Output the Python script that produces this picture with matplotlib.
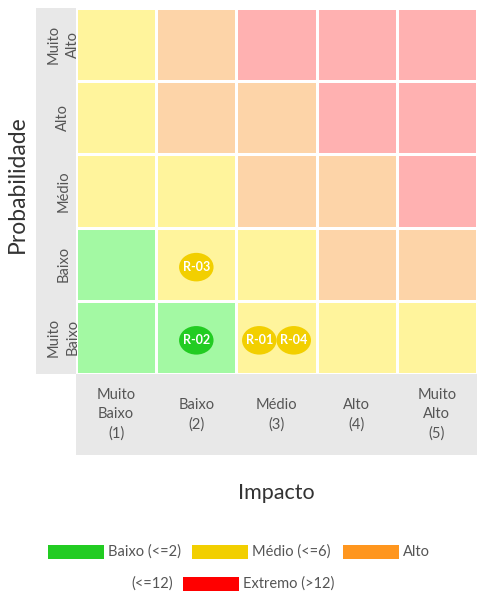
import matplotlib
matplotlib.use("Agg")
import matplotlib.pyplot as plt
import numpy as np
from matplotlib.colors import ListedColormap, BoundaryNorm
from matplotlib.patches import Rectangle, Ellipse
import matplotlib.transforms as mtransforms

plt.rcParams["font.family"] = ["Lato", "DejaVu Sans"]

impact_labels = ["Muito\nBaixo\n(1)", "Baixo\n(2)", "Médio\n(3)", "Alto\n(4)", "Muito\nAlto\n(5)"]
prob_labels = ["Muito\nBaixo", "Baixo", "Médio", "Alto", "Muito\nAlto"]

risk_ids = ["R-01", "R-02", "R-03", "R-04"]
risk_impact = [3, 2, 2, 3]
risk_prob = [1, 1, 2, 1]

level_names = ["Baixo (<=2)", "Médio (<=6)", "Alto (<=12)", "Extremo (>12)"]
level_limits = [2, 6, 12, 25]
cell_colors = ["#a3f9a3", "#fff49c", "#fdd4a8", "#ffb1b1"]
strong_colors = ["#22cc22", "#f2cf00", "#ff961e", "#ff0000"]


def level_of(score):
    for k, lim in enumerate(level_limits):
        if score <= lim:
            return k
    return len(level_limits) - 1


W, H = 480, 599
fig = plt.figure(figsize=(W / 100, H / 100), dpi=100)


def px(x0, y0, x1, y1):
    # pixel box (top-left origin) -> figure fraction rect
    return [x0 / W, 1 - y1 / H, (x1 - x0) / W, (y1 - y0) / H]


gl, gt, gr, gb = 76, 8, 477, 374
ax = fig.add_axes(px(gl, gt, gr, gb))

# gray label bands
for box in [(36, gt, gl, gb), (gl, gb, gr, 455)]:
    r = px(*box)
    fig.add_artist(Rectangle((r[0], r[1]), r[2], r[3], transform=fig.transFigure,
                             facecolor="#e8e8e8", edgecolor="none", zorder=0))

n = 5
imp = np.arange(1, n + 1)
prb = np.arange(1, n + 1)
levels = np.array([[level_of(p * i) for i in imp] for p in prb])
cmap = ListedColormap(cell_colors)
norm = BoundaryNorm(np.arange(-0.5, 4.5, 1), cmap.N)
ax.pcolormesh(np.arange(0.5, n + 1.5), np.arange(0.5, n + 1.5), levels,
              cmap=cmap, norm=norm, edgecolor="white", linewidth=1.0)
ax.set_xlim(0.5, n + 0.5)
ax.set_ylim(0.5, n + 0.5)
ax.set_xticks([])
ax.set_yticks([])
for s in ax.spines.values():
    s.set_visible(False)

# axis labels in bands
tx = mtransforms.blended_transform_factory(ax.transData, ax.transAxes)
for i, lab in zip(imp, impact_labels):
    ax.text(i, -0.111, lab, transform=tx, ha="center", va="center",
            fontsize=10.5, color="#555555", linespacing=1.45, clip_on=False)
ty = mtransforms.blended_transform_factory(ax.transAxes, ax.transData)
for p, lab in zip(prb, prob_labels):
    ax.text(-0.032, p, lab, transform=ty, ha="center", va="center", rotation=90,
            fontsize=10.5, color="#555555", linespacing=1.45, clip_on=False)

ax.text(0.5, -0.325, "Impacto", transform=ax.transAxes, ha="center", va="center",
        fontsize=15.5, color="#333333")
ax.text(-0.145, 0.52, "Probabilidade", transform=ax.transAxes, ha="center", va="center",
        rotation=90, fontsize=16.5, color="#333333")

# risk bubbles, spread when several share a cell
cells = {}
for rid, i, p in zip(risk_ids, risk_impact, risk_prob):
    cells.setdefault((i, p), []).append(rid)
bw, bh = 0.43, 0.39
for (i, p), ids in cells.items():
    k = len(ids)
    offs = (np.arange(k) - (k - 1) / 2) * bw
    for rid, dx in zip(ids, offs):
        c = strong_colors[level_of(i * p)]
        ax.add_patch(Ellipse((i + dx, p - 0.04), bw, bh, facecolor=c, edgecolor="none", zorder=3))
        ax.text(i + dx, p - 0.04, rid, ha="center", va="center", fontsize=9,
                fontweight="bold", color="white", zorder=4)

# legend (wrapped like the original)
legend_layout = [
    (48, 552, "Baixo (<=2)"),
    (192, 552, "Médio (<=6)"),
    (343, 552, "Alto"),
    (183, 584, "Extremo (>12)"),
]
for k, (x0, yc, txt) in enumerate(legend_layout):
    r = px(x0, yc - 7, x0 + 56, yc + 7)
    fig.add_artist(Rectangle((r[0], r[1]), r[2], r[3], transform=fig.transFigure,
                             facecolor=strong_colors[k], edgecolor="none"))
    fig.text((x0 + 60) / W, 1 - yc / H, txt, ha="left", va="center",
             fontsize=10.5, color="#555555")
fig.text(131 / W, 1 - 584 / H, "(" + level_names[2].split("(")[1], ha="left", va="center",
         fontsize=10.5, color="#555555")

fig.savefig("out.png", dpi=100)
